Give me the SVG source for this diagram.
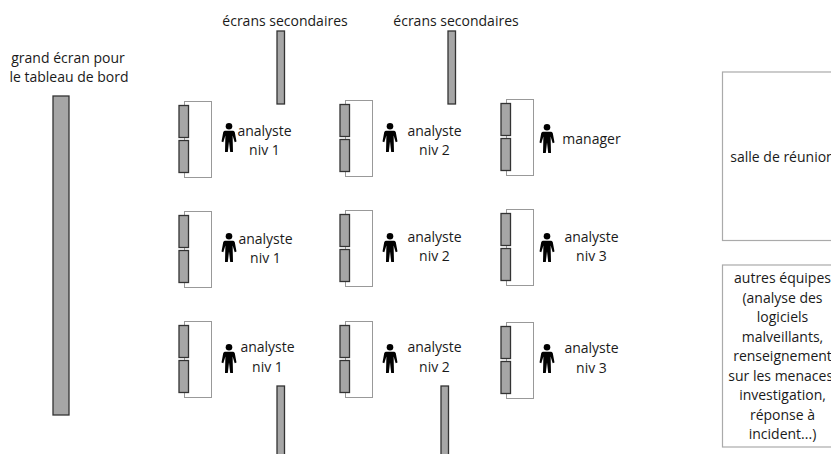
<svg xmlns="http://www.w3.org/2000/svg" width="831" height="454" viewBox="0 0 831 454">
<style>
text{font-family:"Open Sans","Noto Sans",sans-serif;font-size:14px;fill:#1a1a1a;text-anchor:middle}
.s{fill:#a6a6a6;stroke:#333;stroke-width:1.3}
.d{fill:#fff;stroke:#999;stroke-width:1}
.b{fill:#fff;stroke:#aaa;stroke-width:1.2}
</style>
<defs>
<g id="p"><circle cx="0" cy="3.300" r="3.300" fill="#000"/><path d="M-4.200 7.800H4.200Q5.300 7.800 5.800 9.300L7.500 18.500 5.700 19.300 3.600 12.500 4 29H1.200L0 18.500-1.200 29H-4L-3.600 12.500-5.700 19.300-7.500 18.500-5.800 9.300Q-5.300 7.800-4.200 7.800Z" fill="#000"/></g>
<g id="w"><rect class="d" x="5.500" y="0.500" width="27" height="76"/><rect class="s" x="0" y="4.500" width="9.500" height="32"/><rect class="s" x="0" y="39.500" width="9.500" height="32"/></g>
</defs>
<g id="ecran-principal"><rect class="s" x="53" y="96" width="16" height="319"/><text x="68" y="63">grand écran pour</text><text x="69" y="82">le tableau de bord</text></g>
<g id="ecrans-haut-1"><rect class="s" x="277" y="31" width="7.500" height="73"/><text x="285" y="26">écrans secondaires</text></g>
<g id="ecrans-haut-2"><rect class="s" x="448" y="31" width="7.500" height="73"/><text x="456" y="26">écrans secondaires</text></g>
<g id="ecrans-bas-1"><rect class="s" x="277" y="386" width="7.500" height="70"/></g>
<g id="ecrans-bas-2"><rect class="s" x="441" y="386" width="7.500" height="70"/></g>
<g id="poste-1-1"><use href="#w" x="179" y="101"/><use href="#p" x="229" y="123"/><text x="264.500" y="136">analyste</text><text x="264.500" y="155">niv 1</text></g>
<g id="poste-2-1"><use href="#w" x="179" y="211"/><use href="#p" x="229" y="233"/><text x="265.500" y="244">analyste</text><text x="265.500" y="263">niv 1</text></g>
<g id="poste-3-1"><use href="#w" x="179" y="321"/><use href="#p" x="229" y="344"/><text x="267.500" y="352">analyste</text><text x="267.500" y="372">niv 1</text></g>
<g id="poste-1-2"><use href="#w" x="340" y="100"/><use href="#p" x="390" y="123"/><text x="434.500" y="136">analyste</text><text x="434.500" y="155">niv 2</text></g>
<g id="poste-2-2"><use href="#w" x="340" y="210"/><use href="#p" x="390" y="233"/><text x="434.500" y="242">analyste</text><text x="434.500" y="261">niv 2</text></g>
<g id="poste-3-2"><use href="#w" x="340" y="321"/><use href="#p" x="390" y="344"/><text x="434.500" y="352">analyste</text><text x="434.500" y="372">niv 2</text></g>
<g id="poste-1-3"><use href="#w" x="501" y="99"/><use href="#p" x="547" y="124"/><text x="591.500" y="144">manager</text></g>
<g id="poste-2-3"><use href="#w" x="501" y="209"/><use href="#p" x="547" y="233"/><text x="591.500" y="242">analyste</text><text x="591.500" y="261">niv 3</text></g>
<g id="poste-3-3"><use href="#w" x="501" y="322"/><use href="#p" x="547" y="344"/><text x="591.500" y="353">analyste</text><text x="591.500" y="373">niv 3</text></g>
<g id="salle-reunion"><rect class="b" x="722.500" y="72" width="120" height="168.500"/><text x="782.500" y="162">salle de réunion</text></g>
<g id="autres-equipes"><rect class="b" x="722.500" y="265" width="120" height="182"/>
<text x="782.500" y="283">autres équipes</text><text x="782.500" y="303">(analyse des</text><text x="782.500" y="322">logiciels</text><text x="782.500" y="342">malveillants,</text><text x="782.500" y="361">renseignement</text><text x="782.500" y="381">sur les menaces,</text><text x="782.500" y="400">investigation,</text><text x="782.500" y="420">réponse à</text><text x="782.500" y="439">incident...)</text></g>
</svg>
